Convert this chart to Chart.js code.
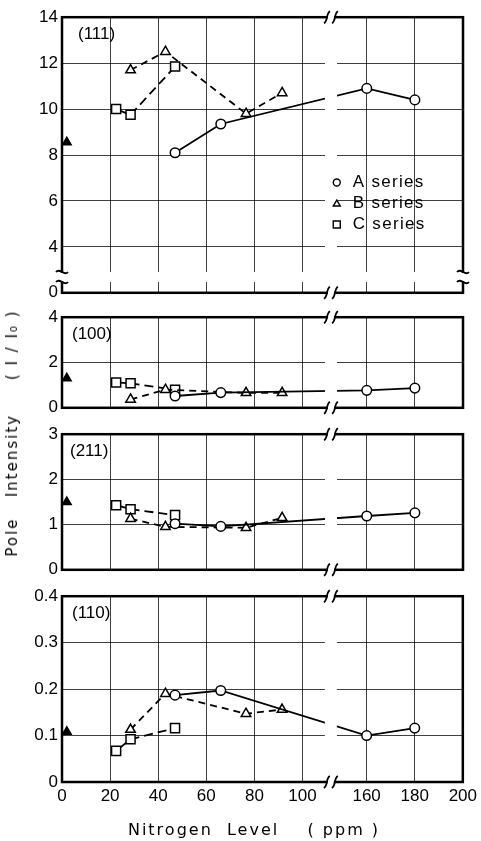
<!DOCTYPE html>
<html>
<head>
<meta charset="utf-8">
<script src="https://cdn.jsdelivr.net/npm/chart.js@4/dist/chart.umd.min.js"></script>
<style>
    html, body {margin: 0; padding: 0; background: #fff;}
    #wrap {position: relative; width: 481px; height: 841px; overflow: hidden;}
    #wrap canvas {position: absolute; left: 0;}
    .axis-title {position: absolute; font: 15px "DejaVu Sans"; letter-spacing: 2px; white-space: pre; color: #000;}
    #yTitle {left: 12px; top: 433px; transform: translate(-50%, -50%) rotate(-90deg);}
    #xTitle {left: 254px; top: 829px; font-size: 16px; transform: translate(-50%, -50%);}
</style>
</head>
<body>
<div id="wrap">
    <canvas id="p111" width="481" height="304" style="top:3px"></canvas>
    <canvas id="p100" width="481" height="119" style="top:303px"></canvas>
    <canvas id="p211" width="481" height="164" style="top:420px"></canvas>
    <canvas id="p110" width="481" height="259" style="top:582px"></canvas>
    <div id="yTitle" class="axis-title">Pole   Intensity     ( I / I₀ )</div>
    <div id="xTitle" class="axis-title">Nitrogen  Level    ( ppm )</div>
</div>
<script>
// nitrogen level (ppm) of each sample, per series
const xA = [47, 66, 160, 180];
const xB = [28.5, 43, 76.5, 91.5];
const xC = [22.5, 28.5, 47];
const xRef = [2];

// pole intensity I/Io
const a111 = [8.1, 9.35, 10.9, 10.4];
const b111 = [11.7, 12.5, 9.8, 10.7];
const c111 = [10.0, 9.75, 11.85];
const r111 = [8.55];

const a100 = [0.52, 0.67, 0.77, 0.87];
const b100 = [0.37, 0.8, 0.66, 0.66];
const c100 = [1.12, 1.08, 0.8];
const r100 = [1.3];

const a211 = [1.02, 0.96, 1.19, 1.26];
const b211 = [1.13, 0.95, 0.93, 1.15];
const c211 = [1.43, 1.34, 1.21];
const r211 = [1.5];

const a110 = [0.187, 0.197, 0.1, 0.116];
const b110 = [0.113, 0.19, 0.147, 0.156];
const c110 = [0.067, 0.092, 0.116];
const r110 = [0.108];

const xTicks = [0, 20, 40, 60, 80, 100, 160, 180, 200];
const yTicks111 = [0, 4, 6, 8, 10, 12, 14];
const yTicks100 = [0, 2, 4];
const yTicks211 = [0, 1, 2, 3];
const yTicks110 = [0, 0.1, 0.2, 0.3, 0.4];

const seriesNames = ['A series', 'B series', 'C series'];

// broken x axis: 100..140 is cut out
const X_SHIFT = 33.33;
const X_BREAK = 111.8;
const toDispX = v => v >= 120 ? v - X_SHIFT : v;
const sameY = v => v;
const toDispY111 = v => v < 3 ? v + 2 : v;   // 0..4 cut out of (111) panel

const TICK_FONT = {family: 'Liberation Sans', size: 17};

const decor = {
    id: 'decor',
    afterDatasetsDraw(chart, args, opts) {
        const {ctx, chartArea: a, scales: {x, y}} = chart;
        ctx.save();
        const bx = x.getPixelForValue(X_BREAK);
        ctx.fillStyle = '#fff';
        ctx.fillRect(bx - 6, a.top + 2, 12, a.bottom - a.top - 4);
        let by = null;
        if (opts.yBreak != null) {
            by = y.getPixelForValue(opts.yBreak);
            ctx.fillRect(a.left + 2, by - 5, a.right - a.left - 4, 10);
        }

        ctx.strokeStyle = '#000';
        ctx.lineWidth = 2.5;
        ctx.strokeRect(a.left, a.top, a.right - a.left, a.bottom - a.top);

        // "//" marks on top and bottom frame
        [a.top, a.bottom].forEach(yy => {
            ctx.fillStyle = '#fff';
            ctx.fillRect(bx - 3, yy - 2, 6, 4);
            ctx.lineWidth = 1.8;
            [-4, 4].forEach(dx => {
                const cx = bx + dx;
                ctx.beginPath();
                ctx.moveTo(cx - 3, yy + 6);
                ctx.bezierCurveTo(cx + 1, yy + 4, cx - 1, yy - 4, cx + 3, yy - 6);
                ctx.stroke();
            });
        });

        if (by != null) {
            [a.left, a.right].forEach(xx => {
                ctx.fillStyle = '#fff';
                ctx.fillRect(xx - 2, by - 4, 4, 8);
                ctx.lineWidth = 1.8;
                [-5, 5].forEach(dy => {
                    const cy = by + dy;
                    ctx.beginPath();
                    ctx.moveTo(xx - 6, cy);
                    ctx.bezierCurveTo(xx - 2, cy - 5, xx + 2, cy + 5, xx + 6, cy);
                    ctx.stroke();
                });
            });
        }

        ctx.fillStyle = '#000';
        ctx.font = '17px "Liberation Sans"';
        ctx.textBaseline = 'middle';
        ctx.textAlign = 'left';
        ctx.fillText(opts.label, a.left + opts.labelDx, a.top + 17);

        if (opts.legend) {
            const lx = x.getPixelForValue(114.2);
            let ly = y.getPixelForValue(6.8);
            ctx.font = '17px "Liberation Sans"';
            ctx.letterSpacing = '1.3px';
            ctx.lineWidth = 1.4;
            seriesNames.forEach((name, i) => {
                ctx.fillStyle = '#fff';
                ctx.beginPath();
                if (i === 0) {
                    ctx.arc(lx, ly, 3.5, 0, Math.PI * 2);
                } else if (i === 1) {
                    ctx.moveTo(lx, ly - 3.5);
                    ctx.lineTo(lx + 3.5, ly + 2.5);
                    ctx.lineTo(lx - 3.5, ly + 2.5);
                    ctx.closePath();
                } else {
                    ctx.rect(lx - 3.5, ly - 3.5, 7, 7);
                }
                ctx.fill();
                ctx.stroke();
                ctx.fillStyle = '#000';
                ctx.fillText(name, lx + 16, ly);
                ly += 21;
            });
        }
        ctx.restore();
    }
};

function pts(xs, ys, mapY) {
    return xs.map((v, i) => ({x: toDispX(v), y: mapY(ys[i])}));
}

function makePanel(id, p) {
    const mapY = p.mapY || sameY;
    const common = {
        borderColor: '#000',
        borderWidth: 1.8,
        pointBorderColor: '#000',
        pointBackgroundColor: '#fff',
        pointBorderWidth: 1.5,
        fill: false,
        tension: 0
    };
    const datasets = [
        {...common, label: 'A series', data: pts(xA, p.a, mapY), pointStyle: 'circle', pointRadius: 4.8},
        {...common, label: 'B series', data: pts(xB, p.b, mapY), pointStyle: 'triangle', pointRadius: 5.5, borderDash: [7, 5]},
        {
            ...common, label: 'C series', data: pts(xC, p.c, mapY), pointStyle: 'rect', pointRadius: 6.4,
            segment: {borderDash: s => s.p0DataIndex === 0 ? [] : [9, 5]}
        },
        {
            ...common, label: 'reference', data: pts(xRef, p.r, mapY), showLine: false,
            pointStyle: 'triangle', pointRadius: 5, pointBackgroundColor: '#000'
        }
    ];
    const yVals = p.yTicks.map(mapY);
    return new Chart(document.getElementById(id), {
        type: 'line',
        data: {datasets},
        plugins: [decor],
        options: {
            responsive: false,
            animation: false,
            events: [],
            layout: {padding: {top: 12, bottom: p.bottomAxis ? 0 : 12, left: 0, right: 18}},
            plugins: {
                legend: {display: false},
                tooltip: {enabled: false},
                decor: {label: p.label, labelDx: p.labelDx, legend: !!p.legend, yBreak: p.yBreak}
            },
            scales: {
                x: {
                    type: 'linear',
                    min: 0,
                    max: toDispX(200),
                    afterBuildTicks: s => { s.ticks = xTicks.map(v => ({value: toDispX(v)})); },
                    afterFit: s => { s.height = p.bottomAxis ? 59 : 0; },
                    border: {display: false},
                    grid: {color: 'rgba(0,0,0,0.75)', lineWidth: 1, drawTicks: false},
                    ticks: {
                        display: !!p.bottomAxis,
                        color: '#000',
                        font: TICK_FONT,
                        padding: 4,
                        maxRotation: 0,
                        autoSkip: false,
                        callback: (v, i) => String(xTicks[i])
                    }
                },
                y: {
                    type: 'linear',
                    min: yVals[0],
                    max: yVals[yVals.length - 1],
                    afterBuildTicks: s => { s.ticks = yVals.map(v => ({value: v})); },
                    afterFit: s => { s.width = 62; },
                    border: {display: false},
                    grid: {color: 'rgba(0,0,0,0.75)', lineWidth: 1, drawTicks: false},
                    ticks: {
                        color: '#000',
                        font: TICK_FONT,
                        padding: 4,
                        autoSkip: false,
                        callback: (v, i) => String(p.yTicks[i])
                    }
                }
            }
        }
    });
}

makePanel('p111', {a: a111, b: b111, c: c111, r: r111, yTicks: yTicks111, mapY: toDispY111,
    label: '(111)', labelDx: 16, legend: true, yBreak: 2.69});
makePanel('p100', {a: a100, b: b100, c: c100, r: r100, yTicks: yTicks100, label: '(100)', labelDx: 10});
makePanel('p211', {a: a211, b: b211, c: c211, r: r211, yTicks: yTicks211, label: '(211)', labelDx: 8});
makePanel('p110', {a: a110, b: b110, c: c110, r: r110, yTicks: yTicks110, label: '(110)', labelDx: 10, bottomAxis: true});
</script>
</body>
</html>
